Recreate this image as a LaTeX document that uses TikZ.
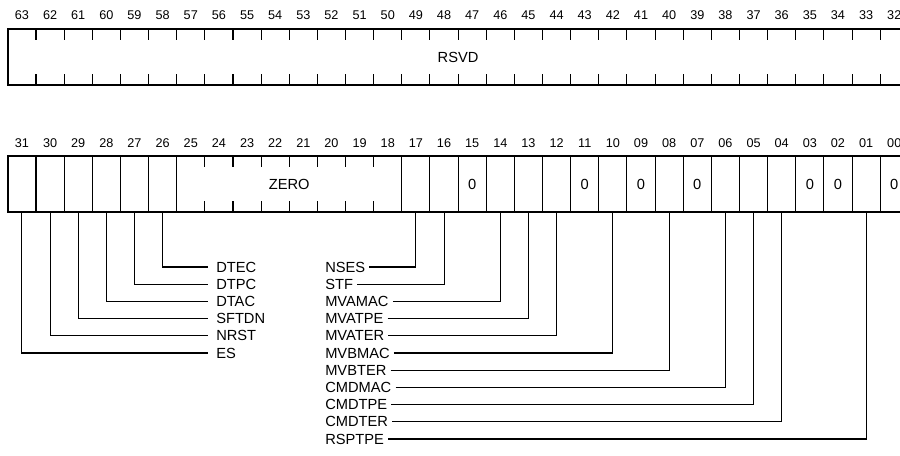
\documentclass[tikz,border=0pt]{standalone}
\usepackage{fontspec}
\setmainfont{Liberation Sans}
\begin{document}
\begin{tikzpicture}[x=0.75pt,y=-0.75pt,
  frame/.style={line width=1.5pt},
  div/.style={line width=0.8pt},
  bitnum/.style={font=\fontsize{9.5}{11}\selectfont, inner sep=0pt},
  lbl/.style={font=\fontsize{11}{13}\selectfont, inner sep=0pt},
  conn/.style={line width=0.8pt}]
\clip (0,0) rectangle (900,455);
\def\L{7.86}
\def\W{28.14}
% ---------- top register 63..32
\foreach \i in {0,...,31}{
  \pgfmathtruncatemacro{\b}{63-\i}
  \node[bitnum] (t\b) at (\L+\i*\W+0.5*\W,15) {\b};
}
\draw[frame] (\L,29) rectangle (\L+32*\W,85);
\foreach \k in {1,...,31}{
  \draw[div] (\L+\k*\W,29) -- (\L+\k*\W,40);
  \draw[div] (\L+\k*\W,85) -- (\L+\k*\W,74);
}
\node[lbl] (rsvd) at (\L+16*\W,57) {RSVD};
% ---------- lower register 31..00
\foreach \i in {0,...,31}{
  \pgfmathtruncatemacro{\b}{31-\i}
  \node[bitnum] (n\b) at (\L+\i*\W+0.5*\W,143) {\ifnum\b<10 0\b\else\b\fi};
  \coordinate (c\b) at (\L+\i*\W+0.5*\W,212);
}
\draw[frame] (\L,156) rectangle (\L+32*\W,212);
\foreach \k in {1,...,6,14,15,...,31}{
  \draw[div] (\L+\k*\W,156) -- (\L+\k*\W,212);
}
\foreach \k in {7,...,13}{
  \draw[div] (\L+\k*\W,156) -- (\L+\k*\W,167);
  \draw[div] (\L+\k*\W,212) -- (\L+\k*\W,201);
}
\node[lbl] (zero) at (\L+10*\W,184) {ZERO};
\foreach \i in {16,20,22,24,28,29,31}{
  \node[lbl] (z\i) at (\L+\i*\W+0.5*\W,184) {0};
}
% ---------- left-hand labels
\foreach \b/\t/\r in {26/DTEC/0,27/DTPC/1,28/DTAC/2,29/SFTDN/3,30/NRST/4,31/ES/5}{
  \node[lbl,anchor=west] (l\t) at (216,267+\r*17.2) {\t};
  \draw[conn] (c\b) |- ([xshift=-6]l\t.west);
}
% ---------- right-hand labels
\foreach \b/\t/\r in {17/NSES/0,16/STF/1,14/MVAMAC/2,13/MVATPE/3,12/MVATER/4,10/MVBMAC/5,8/MVBTER/6,6/CMDMAC/7,5/CMDTPE/8,4/CMDTER/9,1/RSPTPE/10}{
  \node[lbl,anchor=west] (l\t) at (325,267+\r*17.2) {\t};
  \draw[conn] ([xshift=3]l\t.east) -| (c\b);
}
\end{tikzpicture}
\end{document}
